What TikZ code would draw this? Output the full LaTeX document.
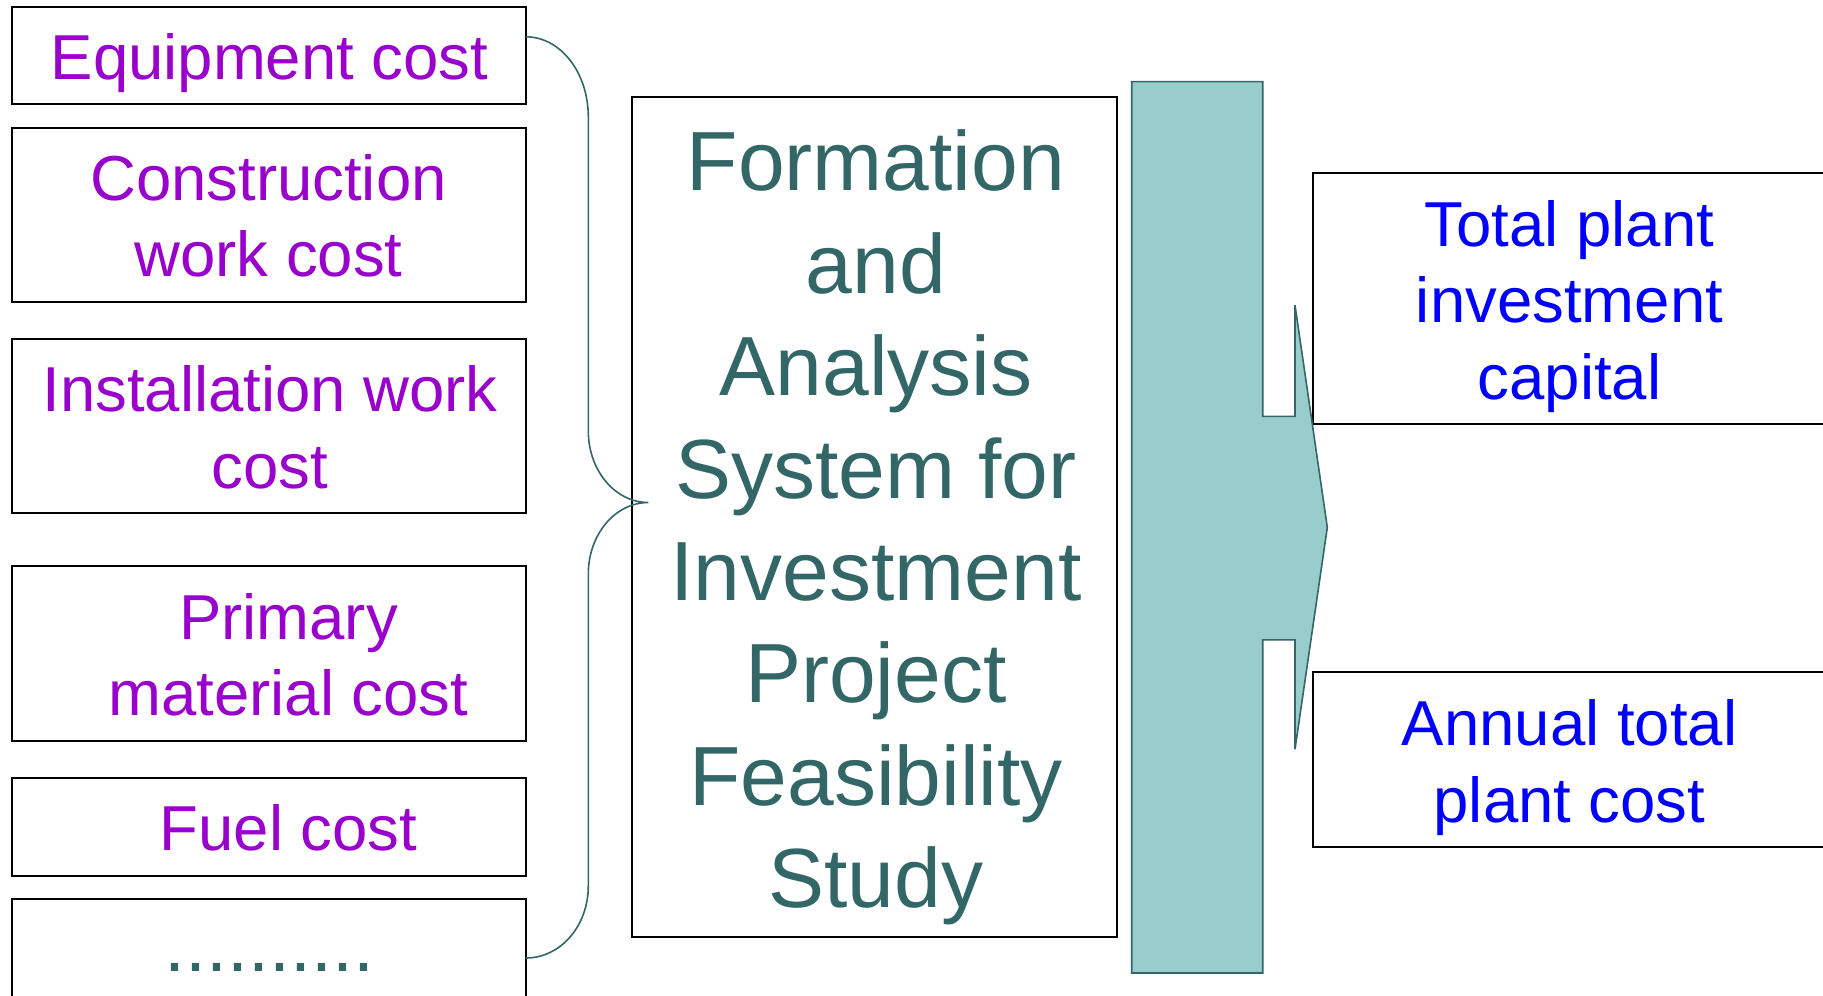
\documentclass[tikz,border=0pt]{standalone}
\usepackage{fontspec}
\setmainfont{Liberation Sans}
\definecolor{costpurple}{HTML}{9900CC}
\definecolor{resultblue}{HTML}{0000FF}
\definecolor{deepteal}{HTML}{336666}
\definecolor{paleteal}{HTML}{99CCCC}
\begin{document}
\begin{tikzpicture}[x=0.5pt,y=-0.5pt,
  box/.style={draw=black, line width=1pt, inner sep=0pt, outer sep=0pt, anchor=north west},
  costtext/.style={text=costpurple, align=center, inner sep=0pt,
    font=\fontsize{31.75pt}{38.25pt}\selectfont},
  resulttext/.style={text=resultblue, align=center, inner sep=0pt,
    font=\fontsize{31.75pt}{38.25pt}\selectfont},
  systemtext/.style={text=deepteal, align=center, inner sep=0pt,
    font=\fontsize{42pt}{51.2pt}\selectfont},
  bracket/.style={draw=deepteal, line width=0.8pt},
  flowarrow/.style={draw=deepteal, fill=paleteal, line width=0.8pt, line join=miter}]
\useasboundingbox (0,0) rectangle (1823,995);
\clip (0,0) rectangle (1823,995);

% cost input boxes
\node[box, minimum width=257.05pt, minimum height=48.8pt]  (b1) at (11.6,6.7) {};
\node[box, minimum width=257.05pt, minimum height=87.15pt] (b2) at (11.6,127.7) {};
\node[box, minimum width=257.05pt, minimum height=87pt]    (b3) at (11.6,339.3) {};
\node[box, minimum width=257.05pt, minimum height=87.35pt] (b4) at (11.6,566) {};
\node[box, minimum width=257.05pt, minimum height=49.15pt] (b5) at (11.6,777.7) {};
\node[box, minimum width=257.05pt, minimum height=60pt]    (b6) at (11.6,899) {};

\node[costtext] (t1) at (269.5,64.0)   {\strut Equipment cost};
\node[costtext] (t2) at (268.5,222.95) {\strut Construction\\\strut work cost};
\node[costtext] (t3) at (270,434.65)   {\strut Installation work\\\strut cost};
\node[costtext] (t4) at (288.5,662.25) {\strut Primary\\\strut material cost};
\node[costtext] (t5) at (288.5,835.4)  {\strut Fuel cost};
\node[text=deepteal, inner sep=0pt, anchor=base,
      font=\fontsize{37.7pt}{45pt}\selectfont] (t6) at (269.5,971.5) {..........};

% central system box
\node[box, minimum width=242.1pt, minimum height=420pt] (sys) at (632.4,97.3) {};
\node[systemtext] (systxt) at (876,528.9)
  {\strut Formation\\\strut and\\\strut Analysis\\\strut System for\\\strut Investment\\\strut Project\\\strut Feasibility\\\strut Study};

% result boxes
\node[box, minimum width=265pt, minimum height=125.55pt] (r1) at (1312.6,173) {};
\node[box, minimum width=265pt, minimum height=87.25pt]  (r2) at (1312.6,672) {};
\node[resulttext] (rt1) at (1569.5,307.6)  {\strut Total plant\\\strut investment\\\strut capital};
\node[resulttext] (rt2) at (1569.5,768.45) {\strut Annual total\\\strut plant cost};

% block arrow from the system to the results
\draw[flowarrow] (1131.7,81.7) -- (1262.7,81.7) -- (1262.7,416.3) -- (1295,416.3)
  -- (1295,305.2) -- (1327.3,527.4) -- (1295,749.2) -- (1295,639.9)
  -- (1262.7,639.9) -- (1262.7,973) -- (1131.7,973) -- cycle;

% curly bracket gathering the cost items
\coordinate (bt) at (525.7,36.8);
\coordinate (bb) at (525.7,958);
\coordinate (tip) at (648.3,502.5);
\draw[bracket] (bt) .. controls (560.7,36.8) and (588.3,72.7) .. (588.3,117)
  -- (588.3,431) .. controls (588.3,470.5) and (615.2,502.5) .. (tip)
  .. controls (615.2,502.5) and (588.3,534.5) .. (588.3,574)
  -- (588.3,886) .. controls (588.3,925.8) and (560.7,958) .. (bb);
\end{tikzpicture}
\end{document}
